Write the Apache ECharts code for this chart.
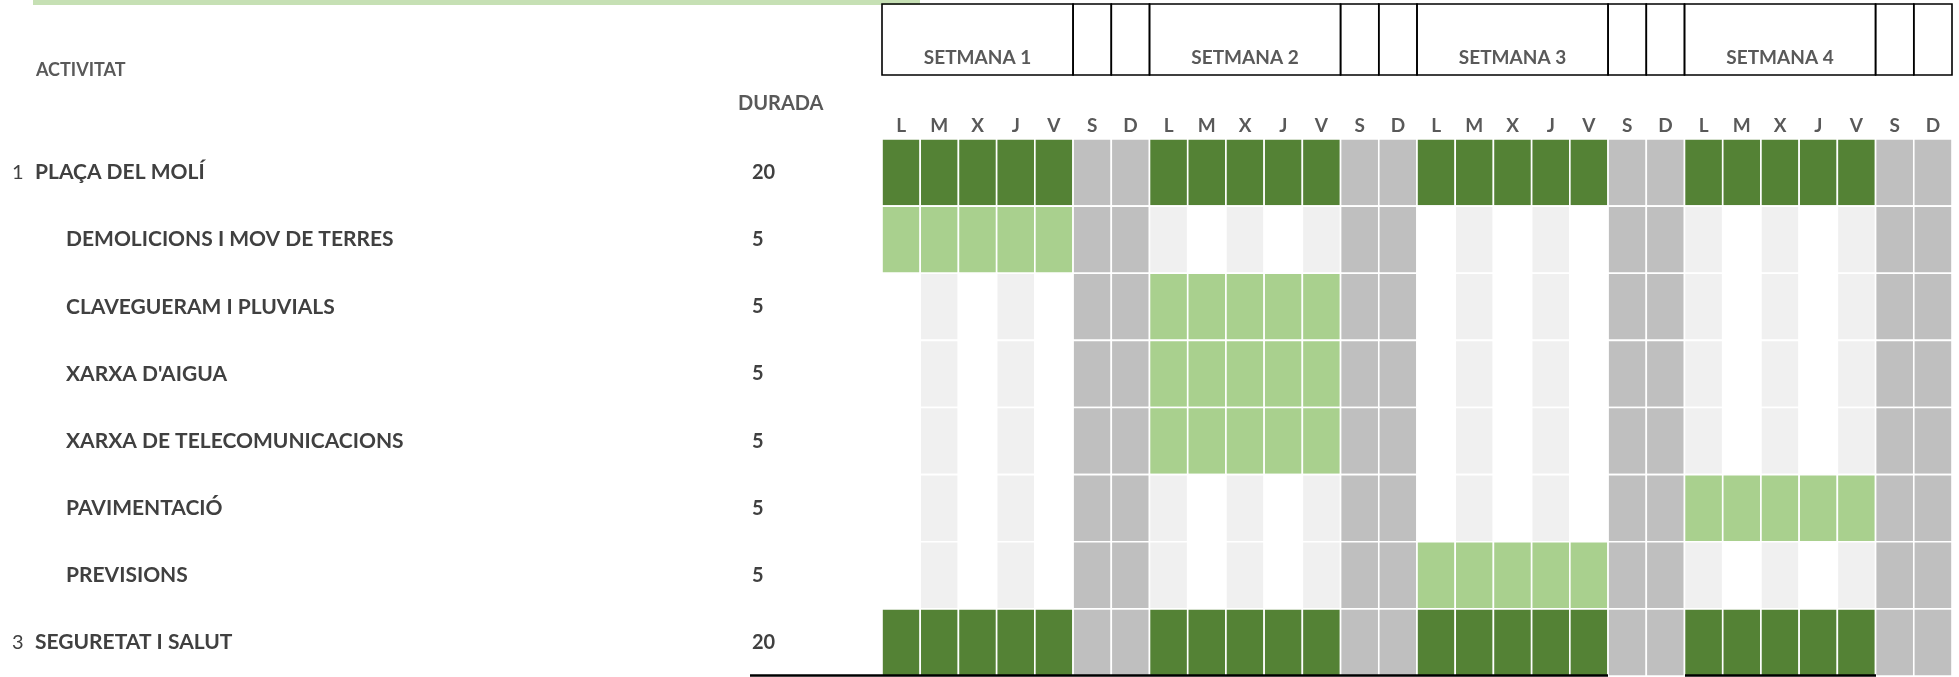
<!DOCTYPE html>
<html>
<head>
<meta charset="utf-8">
<script src="https://cdn.jsdelivr.net/npm/echarts@6/dist/echarts.min.js"></script>
<style>
html,body{margin:0;padding:0;background:#fff;}
#chart{width:1959px;height:677px;}
</style>
</head>
<body>
<div id="chart"></div>
<script>
// ---- data ----
const days = ['L','M','X','J','V','S','D','L','M','X','J','V','S','D','L','M','X','J','V','S','D','L','M','X','J','V','S','D'];
const weekLabels = ['SETMANA 1','SETMANA 2','SETMANA 3','SETMANA 4'];
const activities = ['PLAÇA DEL MOLÍ','DEMOLICIONS I MOV DE TERRES','CLAVEGUERAM I PLUVIALS',"XARXA D'AIGUA",'XARXA DE TELECOMUNICACIONS','PAVIMENTACIÓ','PREVISIONS','SEGURETAT I SALUT'];
const activityNumbers = ['1','','','','','','','3'];
const durations = [20,5,5,5,5,5,5,20];
const taskStart = [0,0,7,7,7,21,14,0];
const taskEnd = [25,4,11,11,11,25,18,25];
const isSummary = [true,false,false,false,false,false,false,true];

// ---- colors ----
const C = {dark:'#548235', light:'#A9D08E', weekend:'#BFBFBF', alt:'#F0F0F0', blank:'#FFFFFF'};
const FONT = 'Lato';
const TXT = '#404040';

// build cells
const cells = [];
for (let r = 0; r < activities.length; r++) {
  for (let c = 0; c < days.length; c++) {
    let t;
    if (c % 7 >= 5) t = 'weekend';
    else if (c >= taskStart[r] && c <= taskEnd[r]) t = isSummary[r] ? 'dark' : 'light';
    else t = (c % 2 === 1) ? 'alt' : 'blank';
    cells.push([c, r, t]);
  }
}
// header boxes
const headers = [];
for (let w = 0; w < weekLabels.length; w++) {
  headers.push([7*w, 7*w+4, weekLabels[w]]);
  headers.push([7*w+5, 7*w+5, '']);
  headers.push([7*w+6, 7*w+6, '']);
}

const chart = echarts.init(document.getElementById('chart'));
chart.setOption({
  animation: false,
  backgroundColor: '#fff',
  grid: {left: 882, right: 7, top: 139, bottom: 1, containLabel: false},
  xAxis: {
    type: 'category', data: days, position: 'top',
    axisLine: {show: false}, axisTick: {show: false}, splitLine: {show: false},
    axisLabel: {interval: 0, margin: 4, color: '#595959', fontFamily: FONT, fontWeight: 'bold', fontSize: 19}
  },
  yAxis: [
    {
      type: 'category', data: activities, inverse: true, position: 'left',
      axisLine: {show: false}, axisTick: {show: false}, splitLine: {show: false},
      axisLabel: {
        interval: 0, margin: 870, align: 'left',
        formatter: function (v, i) {
          if (activityNumbers[i]) return '{num|' + activityNumbers[i] + '}{main|' + v + '}';
          return '{ind| }{main|' + v + '}';
        },
        rich: {
          num: {width: 23, fontFamily: FONT, fontSize: 20, color: TXT, fontWeight: 'normal'},
          ind: {width: 54, fontSize: 20},
          main: {fontFamily: FONT, fontSize: 21, color: TXT, fontWeight: 'bold'}
        }
      }
    },
    {
      type: 'category', data: durations.map(String), inverse: true, position: 'left',
      axisLine: {show: false}, axisTick: {show: false}, splitLine: {show: false},
      axisLabel: {interval: 0, margin: 130, align: 'left', fontFamily: FONT, fontSize: 20, fontWeight: 'bold', color: TXT}
    }
  ],
  series: [
    {
      type: 'custom', name: 'cells', data: cells, xAxisIndex: 0, yAxisIndex: 0,
      renderItem: function (params, api) {
        const p = api.coord([api.value(0), api.value(1)]);
        const s = api.size([1, 1]);
        const t = cells[params.dataIndex][2];
        return {
          type: 'rect',
          shape: {x: p[0] - s[0]/2, y: p[1] - s[1]/2, width: s[0], height: s[1]},
          style: {fill: C[t], stroke: '#ffffff', lineWidth: 1.6}
        };
      }
    },
    {
      type: 'custom', name: 'header', data: headers, clip: false, xAxisIndex: 0, yAxisIndex: 0,
      renderItem: function (params, api) {
        const h = headers[params.dataIndex];
        const w = api.size([1, 1])[0];
        const x0 = api.coord([h[0], 0])[0] - w/2;
        const x1 = api.coord([h[1], 0])[0] + w/2;
        const top = params.coordSys.y - 135;
        const bot = params.coordSys.y - 64;
        return {
          type: 'group',
          children: [
            {type: 'rect', shape: {x: x0, y: top, width: x1 - x0, height: bot - top},
             style: {fill: 'none', stroke: '#000', lineWidth: 1.6}},
            {type: 'text', style: {text: h[2], x: (x0 + x1)/2, y: bot - 17, align: 'center', verticalAlign: 'middle',
              fill: '#595959', font: 'bold 19px ' + FONT}}
          ]
        };
      }
    }
  ],
  graphic: [
    {type: 'rect', left: 33, top: 0, shape: {width: 887, height: 5}, style: {fill: '#C6E0B4'}, z: 0},
    {type: 'text', left: 36, top: 61, style: {text: 'ACTIVITAT', fill: '#595959', font: 'bold 18px ' + FONT}},
    {type: 'text', left: 738, top: 94, style: {text: 'DURADA', fill: '#595959', font: 'bold 20px ' + FONT}},
    {type: 'line', shape: {x1: 750, y1: 675.5, x2: 1608, y2: 675.5}, style: {stroke: '#000', lineWidth: 2.5}, z: 100},
    {type: 'line', shape: {x1: 1685, y1: 675.5, x2: 1876, y2: 675.5}, style: {stroke: '#000', lineWidth: 2.5}, z: 100}
  ]
});
</script>
</body>
</html>
